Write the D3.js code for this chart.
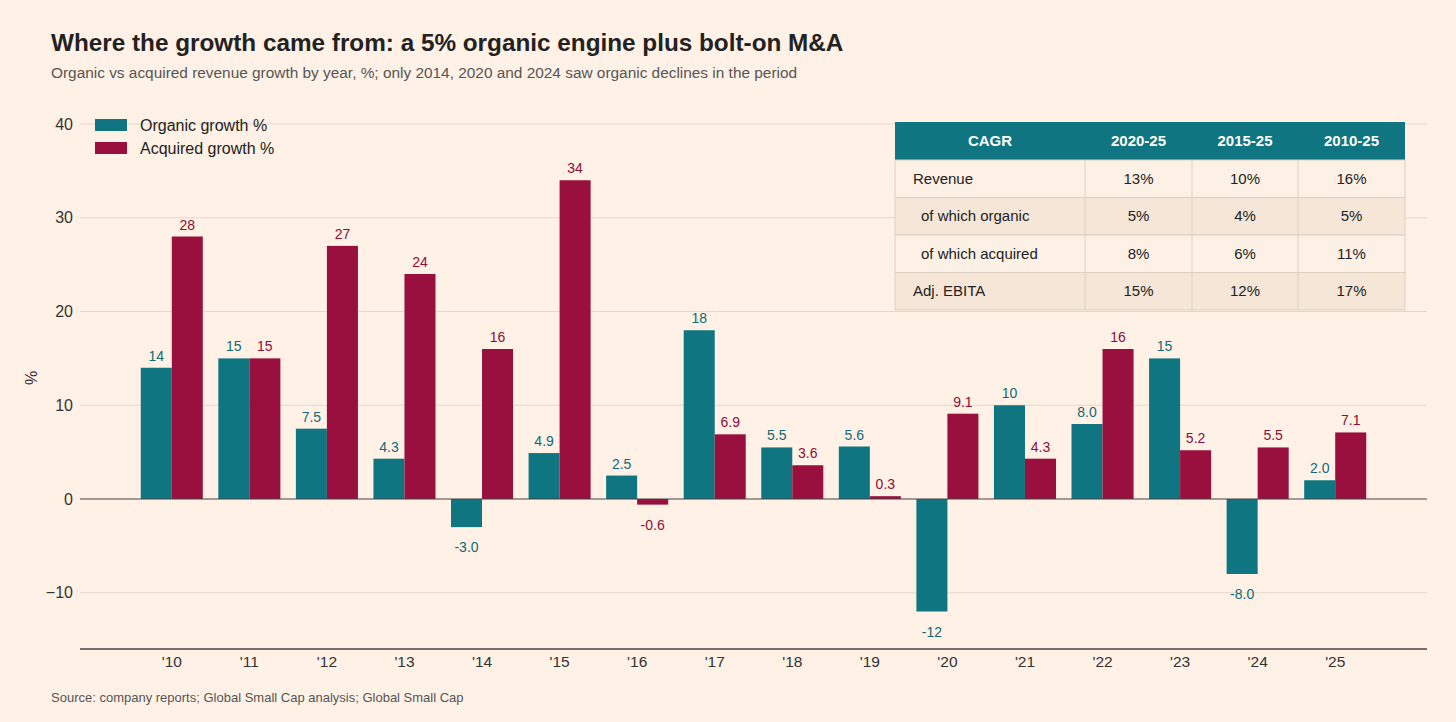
<!DOCTYPE html>
<html>
<head>
<meta charset="utf-8">
<script src="https://cdn.jsdelivr.net/npm/d3@7"></script>
<style>
  body { margin: 0; background: #fff1e5; }
  svg { display: block; font-family: "Liberation Sans", Arial, sans-serif; }
</style>
</head>
<body>
<div id="chart"></div>
<script>
// data
const years = ["'10","'11","'12","'13","'14","'15","'16","'17","'18","'19","'20","'21","'22","'23","'24","'25"];
const organic = [14, 15, 7.5, 4.3, -3.0, 4.9, 2.5, 18, 5.5, 5.6, -12, 10, 8.0, 15, -8.0, 2.0];
const acquired = [28, 15, 27, 24, 16, 34, -0.6, 6.9, 3.6, 0.3, 9.1, 4.3, 16, 5.2, 5.5, 7.1];
const yTicks = [-10, 0, 10, 20, 30, 40];

// CAGR table
const tableHead = ["CAGR", "2020-25", "2015-25", "2010-25"];
const tableRows = ["Revenue", "  of which organic", "  of which acquired", "Adj. EBITA"];
const cagr2020 = ["13%", "5%", "8%", "15%"];
const cagr2015 = ["10%", "4%", "6%", "12%"];
const cagr2010 = ["16%", "5%", "11%", "17%"];

const W = 1456, H = 722;
const teal = "#0f7580", claret = "#990f3d";

const svg = d3.select("#chart").append("svg")
    .attr("width", W)
    .attr("height", H);

svg.append("rect").attr("width", W).attr("height", H).attr("fill", "#fff1e5");

// titles
svg.append("text")
    .attr("x", 51).attr("y", 51)
    .attr("font-size", 24.3).attr("font-weight", "bold").attr("fill", "#222")
    .text("Where the growth came from: a 5% organic engine plus bolt-on M&A");
svg.append("text")
    .attr("x", 51).attr("y", 78)
    .attr("font-size", 15.4).attr("fill", "#555")
    .text("Organic vs acquired revenue growth by year, %; only 2014, 2020 and 2024 saw organic declines in the period");

const plotL = 80, plotR = 1427;

const y = d3.scaleLinear()
    .domain([-16, 40])
    .range([649, 124]);

const x0 = d3.scaleBand()
    .domain(years)
    .range([133, 1374])
    .paddingInner(0.2)
    .paddingOuter(0.1);

const x1 = d3.scaleBand()
    .domain(["organic", "acquired"])
    .range([0, x0.bandwidth()]);

// grid
svg.append("g")
    .selectAll("line")
    .data(yTicks.filter(d => d !== 0))
    .join("line")
    .attr("x1", plotL).attr("x2", plotR)
    .attr("y1", d => y(d)).attr("y2", d => y(d))
    .attr("stroke", "#e3d8cc").attr("stroke-width", 1);

// y axis labels
const yAxis = svg.append("g")
    .attr("transform", `translate(${plotL},0)`)
    .call(d3.axisLeft(y).tickValues(yTicks).tickSize(0).tickPadding(7).tickFormat(d3.format("d")));
yAxis.select(".domain").remove();
yAxis.selectAll("text")
    .attr("font-size", 16).attr("fill", "#333")
    .attr("font-family", "Liberation Sans, Arial, sans-serif")
    .text(d => d < 0 ? "\u2212" + Math.abs(d) : d);

svg.append("text")
    .attr("transform", "translate(37,378) rotate(-90)")
    .attr("text-anchor", "middle")
    .attr("font-size", 16).attr("fill", "#333")
    .text("%");

// bars
const rows = years.map((yr, i) => ({ yr, organic: organic[i], acquired: acquired[i] }));
// labels use a plain hyphen for negatives
const fmt = v => Math.abs(v) >= 10 ? String(Math.round(v)) : v.toFixed(1);
const series = [
    { key: "organic", color: teal, label: "#0d6b75" },
    { key: "acquired", color: claret, label: "#8c0e38" }
];

series.forEach(s => {
    const g = svg.append("g");
    g.selectAll("rect")
        .data(rows)
        .join("rect")
        .attr("x", d => x0(d.yr) + x1(s.key))
        .attr("y", d => y(Math.max(0, d[s.key])))
        .attr("width", x1.bandwidth())
        .attr("height", d => Math.abs(y(d[s.key]) - y(0)))
        .attr("fill", s.color);
    g.selectAll("text")
        .data(rows)
        .join("text")
        .attr("x", d => x0(d.yr) + x1(s.key) + x1.bandwidth() / 2)
        .attr("y", d => d[s.key] >= 0 ? y(d[s.key]) - 7 : y(d[s.key]) + 25)
        .attr("text-anchor", "middle")
        .attr("font-size", 14)
        .attr("fill", s.label)
        .text(d => fmt(d[s.key]));
});

// zero line and bottom axis
svg.append("line")
    .attr("x1", plotL).attr("x2", plotR)
    .attr("y1", y(0)).attr("y2", y(0))
    .attr("stroke", "#444").attr("stroke-width", 1.2);

const xAxis = svg.append("g")
    .attr("transform", `translate(0,${y(-16)})`)
    .call(d3.axisBottom(x0).tickSize(0).tickPadding(7));
xAxis.select(".domain").remove();
xAxis.selectAll("text")
    .attr("font-size", 15.5).attr("fill", "#333")
    .attr("font-family", "Liberation Sans, Arial, sans-serif");
svg.append("line")
    .attr("x1", plotL).attr("x2", plotR)
    .attr("y1", y(-16)).attr("y2", y(-16))
    .attr("stroke", "#444").attr("stroke-width", 1.5);

// legend
const legend = svg.append("g").attr("transform", "translate(95,119)");
series.forEach((s, i) => {
    legend.append("rect")
        .attr("x", 0).attr("y", i * 23)
        .attr("width", 32).attr("height", 12)
        .attr("fill", s.color);
    legend.append("text")
        .attr("x", 45).attr("y", i * 23 + 12)
        .attr("font-size", 16).attr("fill", "#222")
        .text(s.key === "organic" ? "Organic growth %" : "Acquired growth %");
});

// CAGR table
const tbl = svg.append("g").attr("transform", "translate(895,122)");
const colX = [0, 190, 297, 403, 510];
const headH = 38, rowH = 37.5;
tbl.append("rect")
    .attr("width", colX[4]).attr("height", headH)
    .attr("fill", teal);
tableHead.forEach((h, j) => {
    tbl.append("text")
        .attr("x", (colX[j] + colX[j + 1]) / 2)
        .attr("y", headH / 2 + 5)
        .attr("text-anchor", "middle")
        .attr("font-size", 15).attr("font-weight", "bold").attr("fill", "#fff")
        .text(h);
});
const cols = [cagr2020, cagr2015, cagr2010];
tableRows.forEach((r, i) => {
    const ry = headH + i * rowH;
    tbl.append("rect")
        .attr("x", 0).attr("y", ry)
        .attr("width", colX[4]).attr("height", rowH)
        .attr("fill", i % 2 === 0 ? "#fdf0e5" : "#f5e6d8")
        .attr("stroke", "#ddd0c3");
    tbl.append("text")
        .attr("x", r.startsWith("  ") ? 26 : 18)
        .attr("y", ry + rowH / 2 + 5)
        .attr("font-size", 15).attr("fill", "#222")
        .text(r.trim());
    cols.forEach((c, j) => {
        tbl.append("text")
            .attr("x", (colX[j + 1] + colX[j + 2]) / 2)
            .attr("y", ry + rowH / 2 + 5)
            .attr("text-anchor", "middle")
            .attr("font-size", 15).attr("fill", "#222")
            .text(c[i]);
    });
});
tbl.selectAll(".vline")
    .data(colX.slice(1, 4))
    .join("line")
    .attr("x1", d => d).attr("x2", d => d)
    .attr("y1", headH).attr("y2", headH + rowH * 4)
    .attr("stroke", "#ddd0c3");

// source
svg.append("text")
    .attr("x", 51).attr("y", 702)
    .attr("font-size", 13).attr("fill", "#555")
    .text("Source: company reports; Global Small Cap analysis; Global Small Cap");
</script>
</body>
</html>
